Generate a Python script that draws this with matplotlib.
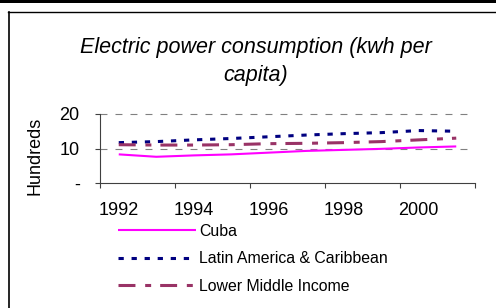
import matplotlib
matplotlib.use("Agg")
import matplotlib.pyplot as plt
from matplotlib.lines import Line2D
from matplotlib.patches import Rectangle

years = ["1992", "1993", "1994", "1995", "1996", "1997", "1998", "1999", "2000", "2001"]
cuba = [8.3, 7.6, 8.0, 8.3, 8.8, 9.3, 9.6, 9.9, 10.3, 10.6]
latin = [11.7, 12.0, 12.5, 12.9, 13.4, 13.9, 14.3, 14.6, 15.2, 15.0]
lower_mid = [11.1, 11.0, 11.0, 11.1, 11.4, 11.5, 11.7, 12.0, 12.5, 13.0]
series_names = ["Cuba", "Latin America & Caribbean", "Lower Middle Income"]
ytick_vals = [0, 10, 20]
ytick_labels = ["-", "10", "20"]

plt.rcParams['font.family'] = ['Liberation Sans', 'DejaVu Sans']
plt.rcParams['lines.scale_dashes'] = False

W, H = 496, 308
fig = plt.figure(figsize=(W / 100, H / 100), dpi=100)

def px(x0, y0, x1, y1):
    # convert pixel box (top-left origin) to figure fraction
    return [x0 / W, 1 - y1 / H, (x1 - x0) / W, (y1 - y0) / H]

ax = fig.add_axes(px(100, 114, 475, 183))
x = list(range(len(years)))

ax.plot(x, cuba, color='#FF00FF', lw=1.5, solid_capstyle='butt', label=series_names[0], zorder=3)
ax.plot(x, latin, color='#000080', lw=2.2, dashes=(3.8, 5.6), dash_capstyle='butt', label=series_names[1], zorder=3)
ax.plot(x, lower_mid, color='#993366', lw=2.2, dashes=(12.2, 7.0, 4.3, 6.5), dash_capstyle='butt', label=series_names[2], zorder=3)

ax.set_xlim(-0.5, len(years) - 0.5)
ax.set_ylim(0, 20)

# category boundaries as major ticks, labels on every 2nd category centre
ax.set_xticks([i - 0.5 for i in range(0, len(years) + 1, 2)])
ax.set_xticklabels([])
ax.set_xticks(x[::2], minor=True)
ax.set_xticklabels(years[::2], minor=True)
ax.tick_params(axis='x', which='major', direction='out', length=3.6, width=0.8, color='#404040')
ax.tick_params(axis='x', which='minor', length=0, pad=13.5, labelsize=13)

ax.set_yticks(ytick_vals)
ax.set_yticklabels(ytick_labels)
ax.tick_params(axis='y', direction='out', length=3.6, width=0.8, color='#404040', pad=11, labelsize=13)

for g in [10, 20]:
    ax.axhline(g, color='#808080', lw=0.8, dashes=(5.0, 5.8), zorder=1, clip_on=False)

for s in ['top', 'right']:
    ax.spines[s].set_visible(False)
for s in ['left', 'bottom']:
    ax.spines[s].set_color('#404040')
    ax.spines[s].set_linewidth(0.8)

fig.text(35 / W, 1 - 156 / H, "Hundreds", rotation=90, fontsize=13, ha='center', va='center')

fig.text(256 / W, 1 - 61.5 / H, "Electric power consumption (kwh per\ncapita)",
         fontsize=15.5, style='italic', ha='center', va='center', linespacing=1.4)

handles, labels = ax.get_legend_handles_labels()
leg = fig.legend(handles, labels, loc='upper left', bbox_to_anchor=(118 / W, 1 - 224 / H),
                 frameon=False, fontsize=11.4, handlelength=4.9, handletextpad=0.2,
                 labelspacing=0.78, borderpad=0, borderaxespad=0)

# frame decorations
fig.patches.append(Rectangle((0, 1 - 3 / H), 1, 3 / H, transform=fig.transFigure,
                             facecolor='black', edgecolor='none'))
fig.add_artist(Line2D([8 / W, 1], [1 - 11.5 / H, 1 - 11.5 / H], color='black', lw=1.0,
                      transform=fig.transFigure))
fig.add_artist(Line2D([8.5 / W, 8.5 / W], [0, 1 - 11.5 / H], color='black', lw=1.2,
                      transform=fig.transFigure))

fig.savefig("out.png", dpi=100)
